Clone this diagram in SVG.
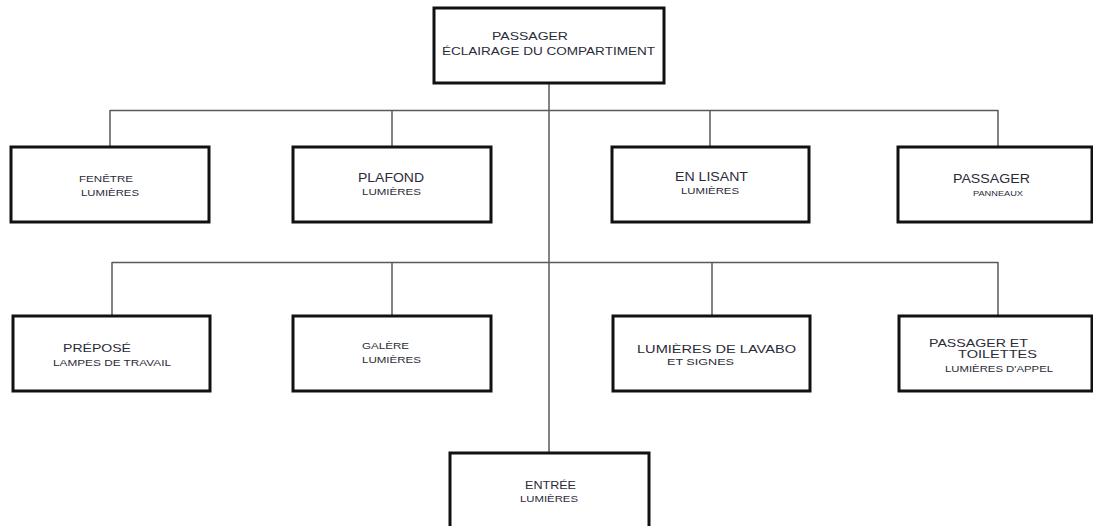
<svg xmlns="http://www.w3.org/2000/svg" width="1093" height="526" viewBox="0 0 1093 526">
<style>
.box{fill:#fff;stroke:#111;stroke-width:3}
.con{stroke:#5a5a5a;stroke-width:1.5;fill:none}
text{font-family:"Liberation Sans",Arial,sans-serif;fill:#2b2b38}
</style>
<rect width="1093" height="526" fill="#fff"/>
<g id="connectors">
<path class="con" d="M549 84V452"/>
<path class="con" d="M110 110.5H998M110 110V146M392 110V146M710 110V146M998 110V146"/>
<path class="con" d="M112 262.5H998M112 262V315M392 262V315M712 262V315M998 262V315"/>
</g>
<g id="root">
<rect class="box" x="434" y="8" width="230" height="75"/>
<text x="492" y="40" font-size="11" textLength="76" lengthAdjust="spacingAndGlyphs">PASSAGER</text>
<text x="442" y="55" font-size="11" textLength="213" lengthAdjust="spacingAndGlyphs">ÉCLAIRAGE DU COMPARTIMENT</text>
</g>
<g id="fenetre">
<rect class="box" x="11" y="147" width="198" height="75"/>
<text x="79" y="182" font-size="9.5" textLength="54" lengthAdjust="spacingAndGlyphs">FENÊTRE</text>
<text x="81" y="196" font-size="9.5" textLength="58" lengthAdjust="spacingAndGlyphs">LUMIÈRES</text>
</g>
<g id="plafond">
<rect class="box" x="293" y="147" width="198" height="75"/>
<text x="358" y="182" font-size="12" textLength="66" lengthAdjust="spacingAndGlyphs">PLAFOND</text>
<text x="362" y="195" font-size="9.5" textLength="59" lengthAdjust="spacingAndGlyphs">LUMIÈRES</text>
</g>
<g id="lisant">
<rect class="box" x="612" y="147" width="197" height="75"/>
<text x="675" y="181" font-size="12" textLength="73" lengthAdjust="spacingAndGlyphs">EN LISANT</text>
<text x="681" y="194" font-size="9.5" textLength="58" lengthAdjust="spacingAndGlyphs">LUMIÈRES</text>
</g>
<g id="panneaux">
<rect class="box" x="898" y="147" width="194" height="75"/>
<text x="953" y="183" font-size="12" textLength="77" lengthAdjust="spacingAndGlyphs">PASSAGER</text>
<text x="973" y="196" font-size="7.5" textLength="50" lengthAdjust="spacingAndGlyphs">PANNEAUX</text>
</g>
<g id="prepose">
<rect class="box" x="13" y="316" width="197" height="75"/>
<text x="63" y="352" font-size="11.5" textLength="68" lengthAdjust="spacingAndGlyphs">PRÉPOSÉ</text>
<text x="53" y="366" font-size="9.5" textLength="118" lengthAdjust="spacingAndGlyphs">LAMPES DE TRAVAIL</text>
</g>
<g id="galere">
<rect class="box" x="293" y="316" width="198" height="75"/>
<text x="362" y="349" font-size="9.5" textLength="47" lengthAdjust="spacingAndGlyphs">GALÈRE</text>
<text x="362" y="363" font-size="9.5" textLength="59" lengthAdjust="spacingAndGlyphs">LUMIÈRES</text>
</g>
<g id="lavabo">
<rect class="box" x="613" y="316" width="197" height="75"/>
<text x="637" y="353" font-size="11.5" textLength="159" lengthAdjust="spacingAndGlyphs">LUMIÈRES DE LAVABO</text>
<text x="667" y="365" font-size="9.5" textLength="67" lengthAdjust="spacingAndGlyphs">ET SIGNES</text>
</g>
<g id="toilettes">
<rect class="box" x="899" y="316" width="193" height="75"/>
<text x="929" y="347" font-size="11" textLength="99" lengthAdjust="spacingAndGlyphs">PASSAGER ET</text>
<text x="958" y="358" font-size="11" textLength="79" lengthAdjust="spacingAndGlyphs">TOILETTES</text>
<text x="945" y="372" font-size="9" textLength="108" lengthAdjust="spacingAndGlyphs">LUMIÈRES D'APPEL</text>
</g>
<g id="entree">
<rect class="box" x="450" y="453" width="199" height="80"/>
<text x="525" y="489" font-size="10.5" textLength="51" lengthAdjust="spacingAndGlyphs">ENTRÉE</text>
<text x="520" y="502" font-size="9.5" textLength="58" lengthAdjust="spacingAndGlyphs">LUMIÈRES</text>
</g>
</svg>
